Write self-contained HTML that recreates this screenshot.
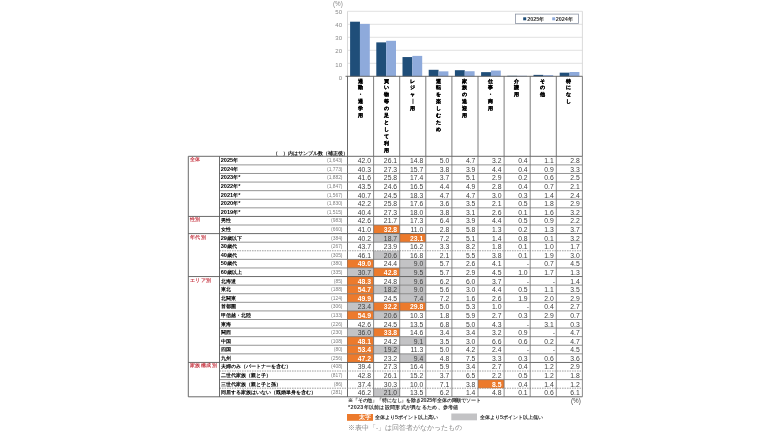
<!DOCTYPE html>
<html lang="ja"><head><meta charset="utf-8">
<style>
html,body{margin:0;padding:0;background:#fff;}
body{width:770px;height:433px;position:relative;overflow:hidden;will-change:transform;font-family:"Liberation Sans",sans-serif;color:#333;}
svg{position:absolute;left:0;top:0;}
div{position:absolute;white-space:nowrap;}
.yl{left:321.5px;width:20.5px;text-align:right;font-size:6px;line-height:8px;color:#8a8a8a;}
.vt{width:10px;text-align:center;font-size:5.49px;line-height:8px;color:#000;font-weight:bold;-webkit-text-stroke:0.2px #000;}
.n{width:23.50px;height:8.59px;text-align:right;font-size:6.8px;line-height:9.19px;color:#404040;}
.o{color:#fff;font-weight:bold;}
.lab{left:220.7px;font-size:5.49px;line-height:9.29px;color:#000;font-weight:bold;}
.d{font-size:5.6px;}
.cnt{left:297px;width:45.5px;text-align:right;font-size:4.9px;line-height:10.99px;color:#808080;}
.cat{left:190px;font-size:5.49px;letter-spacing:0.45px;line-height:7.99px;color:#c9404c;font-weight:bold;}
.note{font-size:5.45px;line-height:7px;color:#333;font-weight:bold;}
</style></head><body>
<svg width="770" height="433" viewBox="0 0 770 433">
<line x1="347.5" y1="63.30" x2="582.40" y2="63.30" stroke="#D9D9D9" stroke-width="0.8"/>
<line x1="347.5" y1="50.30" x2="582.40" y2="50.30" stroke="#D9D9D9" stroke-width="0.8"/>
<line x1="347.5" y1="37.30" x2="582.40" y2="37.30" stroke="#D9D9D9" stroke-width="0.8"/>
<line x1="347.5" y1="24.30" x2="582.40" y2="24.30" stroke="#D9D9D9" stroke-width="0.8"/>
<line x1="347.5" y1="11.30" x2="582.40" y2="11.30" stroke="#D9D9D9" stroke-width="0.8"/>
<line x1="582.40" y1="11.30" x2="582.40" y2="76.30" stroke="#D0D0D0" stroke-width="0.8"/>
<rect x="350.10" y="21.70" width="9.85" height="54.60" fill="#1F4E79"/>
<rect x="359.95" y="23.91" width="9.85" height="52.39" fill="#8EAADB"/>
<rect x="376.30" y="42.37" width="9.85" height="33.93" fill="#1F4E79"/>
<rect x="386.15" y="40.81" width="9.85" height="35.49" fill="#8EAADB"/>
<rect x="402.50" y="57.06" width="9.85" height="19.24" fill="#1F4E79"/>
<rect x="412.35" y="55.89" width="9.85" height="20.41" fill="#8EAADB"/>
<rect x="428.70" y="69.80" width="9.85" height="6.50" fill="#1F4E79"/>
<rect x="438.55" y="71.36" width="9.85" height="4.94" fill="#8EAADB"/>
<rect x="454.90" y="70.19" width="9.85" height="6.11" fill="#1F4E79"/>
<rect x="464.75" y="71.23" width="9.85" height="5.07" fill="#8EAADB"/>
<rect x="481.10" y="72.14" width="9.85" height="4.16" fill="#1F4E79"/>
<rect x="490.95" y="70.58" width="9.85" height="5.72" fill="#8EAADB"/>
<rect x="507.30" y="75.78" width="9.85" height="0.52" fill="#1F4E79"/>
<rect x="517.15" y="75.78" width="9.85" height="0.52" fill="#8EAADB"/>
<rect x="533.50" y="74.87" width="9.85" height="1.43" fill="#1F4E79"/>
<rect x="543.35" y="75.13" width="9.85" height="1.17" fill="#8EAADB"/>
<rect x="559.70" y="72.66" width="9.85" height="3.64" fill="#1F4E79"/>
<rect x="569.55" y="72.01" width="9.85" height="4.29" fill="#8EAADB"/>
<line x1="347.5" y1="11.30" x2="347.5" y2="76.3" stroke="#d4d4d4" stroke-width="0.9"/>
<line x1="347.5" y1="76.3" x2="347.5" y2="396.8" stroke="#5a5a5a" stroke-width="0.9"/>
<line x1="345.5" y1="76.3" x2="582.40" y2="76.3" stroke="#5a5a5a" stroke-width="0.9"/>
<line x1="373.60" y1="76.3" x2="373.60" y2="156.3" stroke="#5a5a5a" stroke-width="0.8"/>
<line x1="399.70" y1="76.3" x2="399.70" y2="156.3" stroke="#5a5a5a" stroke-width="0.8"/>
<line x1="425.80" y1="76.3" x2="425.80" y2="156.3" stroke="#5a5a5a" stroke-width="0.8"/>
<line x1="451.90" y1="76.3" x2="451.90" y2="156.3" stroke="#5a5a5a" stroke-width="0.8"/>
<line x1="478.00" y1="76.3" x2="478.00" y2="156.3" stroke="#5a5a5a" stroke-width="0.8"/>
<line x1="504.10" y1="76.3" x2="504.10" y2="156.3" stroke="#5a5a5a" stroke-width="0.8"/>
<line x1="530.20" y1="76.3" x2="530.20" y2="156.3" stroke="#5a5a5a" stroke-width="0.8"/>
<line x1="556.30" y1="76.3" x2="556.30" y2="156.3" stroke="#5a5a5a" stroke-width="0.8"/>
<line x1="582.40" y1="76.3" x2="582.40" y2="156.3" stroke="#5a5a5a" stroke-width="0.8"/>
<line x1="412.97" y1="98.75" x2="412.97" y2="103.95" stroke="#111" stroke-width="0.85"/>
<rect x="373.60" y="225.01" width="26.10" height="8.59" fill="#EC7A2C"/>
<rect x="373.60" y="233.60" width="26.10" height="8.59" fill="#C3C3C5"/>
<rect x="399.70" y="233.60" width="26.10" height="8.59" fill="#EC7A2C"/>
<rect x="373.60" y="250.78" width="26.10" height="8.59" fill="#C3C3C5"/>
<rect x="347.50" y="259.37" width="26.10" height="8.59" fill="#EC7A2C"/>
<rect x="399.70" y="259.37" width="26.10" height="8.59" fill="#C3C3C5"/>
<rect x="347.50" y="267.96" width="26.10" height="8.59" fill="#C3C3C5"/>
<rect x="373.60" y="267.96" width="26.10" height="8.59" fill="#EC7A2C"/>
<rect x="399.70" y="267.96" width="26.10" height="8.59" fill="#C3C3C5"/>
<rect x="347.50" y="276.55" width="26.10" height="8.59" fill="#EC7A2C"/>
<rect x="399.70" y="276.55" width="26.10" height="8.59" fill="#C3C3C5"/>
<rect x="347.50" y="285.14" width="26.10" height="8.59" fill="#EC7A2C"/>
<rect x="373.60" y="285.14" width="26.10" height="8.59" fill="#C3C3C5"/>
<rect x="399.70" y="285.14" width="26.10" height="8.59" fill="#C3C3C5"/>
<rect x="347.50" y="293.73" width="26.10" height="8.59" fill="#EC7A2C"/>
<rect x="399.70" y="293.73" width="26.10" height="8.59" fill="#C3C3C5"/>
<rect x="347.50" y="302.32" width="26.10" height="8.59" fill="#C3C3C5"/>
<rect x="373.60" y="302.32" width="26.10" height="8.59" fill="#EC7A2C"/>
<rect x="399.70" y="302.32" width="26.10" height="8.59" fill="#EC7A2C"/>
<rect x="347.50" y="310.91" width="26.10" height="8.59" fill="#EC7A2C"/>
<rect x="373.60" y="310.91" width="26.10" height="8.59" fill="#C3C3C5"/>
<rect x="347.50" y="328.09" width="26.10" height="8.59" fill="#C3C3C5"/>
<rect x="373.60" y="328.09" width="26.10" height="8.59" fill="#EC7A2C"/>
<rect x="347.50" y="336.67" width="26.10" height="8.59" fill="#EC7A2C"/>
<rect x="399.70" y="336.67" width="26.10" height="8.59" fill="#C3C3C5"/>
<rect x="347.50" y="345.26" width="26.10" height="8.59" fill="#EC7A2C"/>
<rect x="373.60" y="345.26" width="26.10" height="8.59" fill="#C3C3C5"/>
<rect x="347.50" y="353.85" width="26.10" height="8.59" fill="#EC7A2C"/>
<rect x="399.70" y="353.85" width="26.10" height="8.59" fill="#C3C3C5"/>
<rect x="478.00" y="379.62" width="26.10" height="8.59" fill="#EC7A2C"/>
<rect x="373.60" y="388.21" width="26.10" height="8.59" fill="#C3C3C5"/>
<line x1="188.3" y1="156.3" x2="582.40" y2="156.3" stroke="#5a5a5a" stroke-width="0.9"/>
<line x1="219.5" y1="164.89" x2="582.40" y2="164.89" stroke="#7a7a7a" stroke-width="0.8"/>
<line x1="219.5" y1="173.48" x2="582.40" y2="173.48" stroke="#7a7a7a" stroke-width="0.8"/>
<line x1="219.5" y1="182.07" x2="582.40" y2="182.07" stroke="#7a7a7a" stroke-width="0.8"/>
<line x1="219.5" y1="190.66" x2="582.40" y2="190.66" stroke="#7a7a7a" stroke-width="0.8"/>
<line x1="219.5" y1="199.25" x2="582.40" y2="199.25" stroke="#7a7a7a" stroke-width="0.8"/>
<line x1="219.5" y1="207.84" x2="582.40" y2="207.84" stroke="#7a7a7a" stroke-width="0.8"/>
<line x1="188.3" y1="216.43" x2="582.40" y2="216.43" stroke="#5a5a5a" stroke-width="0.9"/>
<line x1="219.5" y1="225.01" x2="582.40" y2="225.01" stroke="#7a7a7a" stroke-width="0.8"/>
<line x1="188.3" y1="233.60" x2="582.40" y2="233.60" stroke="#5a5a5a" stroke-width="0.9"/>
<line x1="219.5" y1="242.19" x2="582.40" y2="242.19" stroke="#7a7a7a" stroke-width="0.8"/>
<line x1="219.5" y1="250.78" x2="582.40" y2="250.78" stroke="#888" stroke-width="0.8" stroke-dasharray="1.6,0.9"/>
<line x1="219.5" y1="259.37" x2="582.40" y2="259.37" stroke="#7a7a7a" stroke-width="0.8"/>
<line x1="219.5" y1="267.96" x2="582.40" y2="267.96" stroke="#7a7a7a" stroke-width="0.8"/>
<line x1="188.3" y1="276.55" x2="582.40" y2="276.55" stroke="#5a5a5a" stroke-width="0.9"/>
<line x1="219.5" y1="285.14" x2="582.40" y2="285.14" stroke="#7a7a7a" stroke-width="0.8"/>
<line x1="219.5" y1="293.73" x2="582.40" y2="293.73" stroke="#7a7a7a" stroke-width="0.8"/>
<line x1="219.5" y1="302.32" x2="582.40" y2="302.32" stroke="#7a7a7a" stroke-width="0.8"/>
<line x1="219.5" y1="310.91" x2="582.40" y2="310.91" stroke="#7a7a7a" stroke-width="0.8"/>
<line x1="219.5" y1="319.50" x2="582.40" y2="319.50" stroke="#7a7a7a" stroke-width="0.8"/>
<line x1="219.5" y1="328.09" x2="582.40" y2="328.09" stroke="#7a7a7a" stroke-width="0.8"/>
<line x1="219.5" y1="336.67" x2="582.40" y2="336.67" stroke="#7a7a7a" stroke-width="0.8"/>
<line x1="219.5" y1="345.26" x2="582.40" y2="345.26" stroke="#7a7a7a" stroke-width="0.8"/>
<line x1="219.5" y1="353.85" x2="582.40" y2="353.85" stroke="#7a7a7a" stroke-width="0.8"/>
<line x1="188.3" y1="362.44" x2="582.40" y2="362.44" stroke="#5a5a5a" stroke-width="0.9"/>
<line x1="219.5" y1="371.03" x2="582.40" y2="371.03" stroke="#888" stroke-width="0.8" stroke-dasharray="1.6,0.9"/>
<line x1="219.5" y1="379.62" x2="582.40" y2="379.62" stroke="#7a7a7a" stroke-width="0.8"/>
<line x1="219.5" y1="388.21" x2="582.40" y2="388.21" stroke="#888" stroke-width="0.8" stroke-dasharray="1.6,0.9"/>
<line x1="188.3" y1="396.80" x2="582.40" y2="396.80" stroke="#5a5a5a" stroke-width="0.9"/>
<line x1="188.3" y1="156.3" x2="188.3" y2="396.8" stroke="#5a5a5a" stroke-width="0.9"/>
<line x1="219.5" y1="156.3" x2="219.5" y2="396.8" stroke="#5a5a5a" stroke-width="0.9"/>
<line x1="373.60" y1="156.3" x2="373.60" y2="396.8" stroke="#6e6e6e" stroke-width="0.8"/>
<line x1="399.70" y1="156.3" x2="399.70" y2="396.8" stroke="#6e6e6e" stroke-width="0.8"/>
<line x1="425.80" y1="156.3" x2="425.80" y2="396.8" stroke="#6e6e6e" stroke-width="0.8"/>
<line x1="451.90" y1="156.3" x2="451.90" y2="396.8" stroke="#6e6e6e" stroke-width="0.8"/>
<line x1="478.00" y1="156.3" x2="478.00" y2="396.8" stroke="#6e6e6e" stroke-width="0.8"/>
<line x1="504.10" y1="156.3" x2="504.10" y2="396.8" stroke="#6e6e6e" stroke-width="0.8"/>
<line x1="530.20" y1="156.3" x2="530.20" y2="396.8" stroke="#6e6e6e" stroke-width="0.8"/>
<line x1="556.30" y1="156.3" x2="556.30" y2="396.8" stroke="#6e6e6e" stroke-width="0.8"/>
<line x1="582.40" y1="156.3" x2="582.40" y2="396.8" stroke="#6e6e6e" stroke-width="0.8"/>
<rect x="347" y="414" width="26" height="6.8" fill="#EC7A2C"/>
<rect x="451.3" y="413.5" width="25.7" height="6.8" fill="#C3C3C5"/>
<rect x="515.6" y="14.1" width="63" height="9.4" fill="#fff" stroke="#8c94a4" stroke-width="0.8"/>
<rect x="523.2" y="17.3" width="3" height="3" fill="#1F4E79"/>
<rect x="552.2" y="17.3" width="3" height="3" fill="#8EAADB"/>
</svg>
<div style="left:333px;top:0px;font-size:6.3px;line-height:8px;color:#8a8a8a;">(%)</div>
<div class="yl" style="top:60.50px">10</div>
<div class="yl" style="top:47.30px">20</div>
<div class="yl" style="top:34.10px">30</div>
<div class="yl" style="top:20.90px">40</div>
<div class="yl" style="top:7.70px">50</div>
<div class="yl" style="top:73.6px">0</div>
<div class="vt" style="left:355.55px;top:76.50px">通</div>
<div class="vt" style="left:355.55px;top:83.45px">勤</div>
<div class="vt" style="left:355.55px;top:90.40px">・</div>
<div class="vt" style="left:355.55px;top:97.35px">通</div>
<div class="vt" style="left:355.55px;top:104.30px">学</div>
<div class="vt" style="left:355.55px;top:111.25px">用</div>
<div class="vt" style="left:381.51px;top:76.50px">買</div>
<div class="vt" style="left:381.51px;top:83.45px">い</div>
<div class="vt" style="left:381.51px;top:90.40px">物</div>
<div class="vt" style="left:381.51px;top:97.35px">等</div>
<div class="vt" style="left:381.51px;top:104.30px">の</div>
<div class="vt" style="left:381.51px;top:111.25px">足</div>
<div class="vt" style="left:381.51px;top:118.20px">と</div>
<div class="vt" style="left:381.51px;top:125.15px">し</div>
<div class="vt" style="left:381.51px;top:132.10px">て</div>
<div class="vt" style="left:381.51px;top:139.05px">利</div>
<div class="vt" style="left:381.51px;top:146.00px">用</div>
<div class="vt" style="left:407.47px;top:76.50px">レ</div>
<div class="vt" style="left:407.47px;top:83.45px">ジ</div>
<div class="vt" style="left:407.47px;top:90.40px">ャ</div>
<div class="vt" style="left:407.47px;top:104.30px">用</div>
<div class="vt" style="left:433.43px;top:76.50px">運</div>
<div class="vt" style="left:433.43px;top:83.45px">転</div>
<div class="vt" style="left:433.43px;top:90.40px">を</div>
<div class="vt" style="left:433.43px;top:97.35px">楽</div>
<div class="vt" style="left:433.43px;top:104.30px">し</div>
<div class="vt" style="left:433.43px;top:111.25px">む</div>
<div class="vt" style="left:433.43px;top:118.20px">た</div>
<div class="vt" style="left:433.43px;top:125.15px">め</div>
<div class="vt" style="left:459.39px;top:76.50px">家</div>
<div class="vt" style="left:459.39px;top:83.45px">族</div>
<div class="vt" style="left:459.39px;top:90.40px">の</div>
<div class="vt" style="left:459.39px;top:97.35px">送</div>
<div class="vt" style="left:459.39px;top:104.30px">迎</div>
<div class="vt" style="left:459.39px;top:111.25px">用</div>
<div class="vt" style="left:485.35px;top:76.50px">仕</div>
<div class="vt" style="left:485.35px;top:83.45px">事</div>
<div class="vt" style="left:485.35px;top:90.40px">・</div>
<div class="vt" style="left:485.35px;top:97.35px">商</div>
<div class="vt" style="left:485.35px;top:104.30px">用</div>
<div class="vt" style="left:511.31px;top:76.50px">介</div>
<div class="vt" style="left:511.31px;top:83.45px">護</div>
<div class="vt" style="left:511.31px;top:90.40px">用</div>
<div class="vt" style="left:537.27px;top:76.50px">そ</div>
<div class="vt" style="left:537.27px;top:83.45px">の</div>
<div class="vt" style="left:537.27px;top:90.40px">他</div>
<div class="vt" style="left:563.23px;top:76.50px">特</div>
<div class="vt" style="left:563.23px;top:83.45px">に</div>
<div class="vt" style="left:563.23px;top:90.40px">な</div>
<div class="vt" style="left:563.23px;top:97.35px">し</div>
<div class="cat" style="top:156.30px">全体</div>
<div class="n" style="left:347.50px;top:156.30px">42.0</div>
<div class="n" style="left:373.60px;top:156.30px">26.1</div>
<div class="n" style="left:399.70px;top:156.30px">14.8</div>
<div class="n" style="left:425.80px;top:156.30px">5.0</div>
<div class="n" style="left:451.90px;top:156.30px">4.7</div>
<div class="n" style="left:478.00px;top:156.30px">3.2</div>
<div class="n" style="left:504.10px;top:156.30px">0.4</div>
<div class="n" style="left:530.20px;top:156.30px">1.1</div>
<div class="n" style="left:556.30px;top:156.30px">2.8</div>
<div class="lab" style="top:156.30px"><span class="d">2025</span>年</div>
<div class="cnt" style="top:156.30px">(1,643)</div>
<div class="n" style="left:347.50px;top:164.89px">40.3</div>
<div class="n" style="left:373.60px;top:164.89px">27.3</div>
<div class="n" style="left:399.70px;top:164.89px">15.7</div>
<div class="n" style="left:425.80px;top:164.89px">3.8</div>
<div class="n" style="left:451.90px;top:164.89px">3.9</div>
<div class="n" style="left:478.00px;top:164.89px">4.4</div>
<div class="n" style="left:504.10px;top:164.89px">0.4</div>
<div class="n" style="left:530.20px;top:164.89px">0.9</div>
<div class="n" style="left:556.30px;top:164.89px">3.3</div>
<div class="lab" style="top:164.89px"><span class="d">2024</span>年</div>
<div class="cnt" style="top:164.89px">(1,773)</div>
<div class="n" style="left:347.50px;top:173.48px">41.6</div>
<div class="n" style="left:373.60px;top:173.48px">25.8</div>
<div class="n" style="left:399.70px;top:173.48px">17.4</div>
<div class="n" style="left:425.80px;top:173.48px">3.7</div>
<div class="n" style="left:451.90px;top:173.48px">5.1</div>
<div class="n" style="left:478.00px;top:173.48px">2.9</div>
<div class="n" style="left:504.10px;top:173.48px">0.2</div>
<div class="n" style="left:530.20px;top:173.48px">0.6</div>
<div class="n" style="left:556.30px;top:173.48px">2.5</div>
<div class="lab" style="top:173.48px"><span class="d">2023</span>年<span class="d">*</span></div>
<div class="cnt" style="top:173.48px">(1,882)</div>
<div class="n" style="left:347.50px;top:182.07px">43.5</div>
<div class="n" style="left:373.60px;top:182.07px">24.6</div>
<div class="n" style="left:399.70px;top:182.07px">16.5</div>
<div class="n" style="left:425.80px;top:182.07px">4.4</div>
<div class="n" style="left:451.90px;top:182.07px">4.9</div>
<div class="n" style="left:478.00px;top:182.07px">2.8</div>
<div class="n" style="left:504.10px;top:182.07px">0.4</div>
<div class="n" style="left:530.20px;top:182.07px">0.7</div>
<div class="n" style="left:556.30px;top:182.07px">2.1</div>
<div class="lab" style="top:182.07px"><span class="d">2022</span>年<span class="d">*</span></div>
<div class="cnt" style="top:182.07px">(1,847)</div>
<div class="n" style="left:347.50px;top:190.66px">40.7</div>
<div class="n" style="left:373.60px;top:190.66px">24.5</div>
<div class="n" style="left:399.70px;top:190.66px">18.3</div>
<div class="n" style="left:425.80px;top:190.66px">4.7</div>
<div class="n" style="left:451.90px;top:190.66px">4.7</div>
<div class="n" style="left:478.00px;top:190.66px">3.0</div>
<div class="n" style="left:504.10px;top:190.66px">0.3</div>
<div class="n" style="left:530.20px;top:190.66px">1.4</div>
<div class="n" style="left:556.30px;top:190.66px">2.4</div>
<div class="lab" style="top:190.66px"><span class="d">2021</span>年<span class="d">*</span></div>
<div class="cnt" style="top:190.66px">(1,567)</div>
<div class="n" style="left:347.50px;top:199.25px">42.2</div>
<div class="n" style="left:373.60px;top:199.25px">25.8</div>
<div class="n" style="left:399.70px;top:199.25px">17.6</div>
<div class="n" style="left:425.80px;top:199.25px">3.6</div>
<div class="n" style="left:451.90px;top:199.25px">3.5</div>
<div class="n" style="left:478.00px;top:199.25px">2.1</div>
<div class="n" style="left:504.10px;top:199.25px">0.5</div>
<div class="n" style="left:530.20px;top:199.25px">1.8</div>
<div class="n" style="left:556.30px;top:199.25px">2.9</div>
<div class="lab" style="top:199.25px"><span class="d">2020</span>年<span class="d">*</span></div>
<div class="cnt" style="top:199.25px">(1,830)</div>
<div class="n" style="left:347.50px;top:207.84px">40.4</div>
<div class="n" style="left:373.60px;top:207.84px">27.3</div>
<div class="n" style="left:399.70px;top:207.84px">18.0</div>
<div class="n" style="left:425.80px;top:207.84px">3.8</div>
<div class="n" style="left:451.90px;top:207.84px">3.1</div>
<div class="n" style="left:478.00px;top:207.84px">2.6</div>
<div class="n" style="left:504.10px;top:207.84px">0.1</div>
<div class="n" style="left:530.20px;top:207.84px">1.6</div>
<div class="n" style="left:556.30px;top:207.84px">3.2</div>
<div class="lab" style="top:207.84px"><span class="d">2019</span>年<span class="d">*</span></div>
<div class="cnt" style="top:207.84px">(1,515)</div>
<div class="cat" style="top:216.43px">性別</div>
<div class="n" style="left:347.50px;top:216.43px">42.6</div>
<div class="n" style="left:373.60px;top:216.43px">21.7</div>
<div class="n" style="left:399.70px;top:216.43px">17.3</div>
<div class="n" style="left:425.80px;top:216.43px">6.4</div>
<div class="n" style="left:451.90px;top:216.43px">3.9</div>
<div class="n" style="left:478.00px;top:216.43px">4.4</div>
<div class="n" style="left:504.10px;top:216.43px">0.5</div>
<div class="n" style="left:530.20px;top:216.43px">0.9</div>
<div class="n" style="left:556.30px;top:216.43px">2.2</div>
<div class="lab" style="top:216.43px">男性</div>
<div class="cnt" style="top:216.43px">(983)</div>
<div class="n" style="left:347.50px;top:225.01px">41.0</div>
<div class="n o" style="left:373.60px;top:225.01px">32.8</div>
<div class="n" style="left:399.70px;top:225.01px">11.0</div>
<div class="n" style="left:425.80px;top:225.01px">2.8</div>
<div class="n" style="left:451.90px;top:225.01px">5.8</div>
<div class="n" style="left:478.00px;top:225.01px">1.3</div>
<div class="n" style="left:504.10px;top:225.01px">0.2</div>
<div class="n" style="left:530.20px;top:225.01px">1.3</div>
<div class="n" style="left:556.30px;top:225.01px">3.7</div>
<div class="lab" style="top:225.01px">女性</div>
<div class="cnt" style="top:225.01px">(660)</div>
<div class="cat" style="top:233.60px">年代別</div>
<div class="n" style="left:347.50px;top:233.60px">40.2</div>
<div class="n" style="left:373.60px;top:233.60px">18.7</div>
<div class="n o" style="left:399.70px;top:233.60px">23.1</div>
<div class="n" style="left:425.80px;top:233.60px">7.2</div>
<div class="n" style="left:451.90px;top:233.60px">5.1</div>
<div class="n" style="left:478.00px;top:233.60px">1.4</div>
<div class="n" style="left:504.10px;top:233.60px">0.8</div>
<div class="n" style="left:530.20px;top:233.60px">0.1</div>
<div class="n" style="left:556.30px;top:233.60px">3.2</div>
<div class="lab" style="top:233.60px"><span class="d">29</span>歳以下</div>
<div class="cnt" style="top:233.60px">(384)</div>
<div class="n" style="left:347.50px;top:242.19px">43.7</div>
<div class="n" style="left:373.60px;top:242.19px">23.9</div>
<div class="n" style="left:399.70px;top:242.19px">16.2</div>
<div class="n" style="left:425.80px;top:242.19px">3.3</div>
<div class="n" style="left:451.90px;top:242.19px">8.2</div>
<div class="n" style="left:478.00px;top:242.19px">1.8</div>
<div class="n" style="left:504.10px;top:242.19px">0.1</div>
<div class="n" style="left:530.20px;top:242.19px">1.0</div>
<div class="n" style="left:556.30px;top:242.19px">1.7</div>
<div class="lab" style="top:242.19px"><span class="d">30</span>歳代</div>
<div class="cnt" style="top:242.19px">(267)</div>
<div class="n" style="left:347.50px;top:250.78px">46.1</div>
<div class="n" style="left:373.60px;top:250.78px">20.6</div>
<div class="n" style="left:399.70px;top:250.78px">16.8</div>
<div class="n" style="left:425.80px;top:250.78px">2.1</div>
<div class="n" style="left:451.90px;top:250.78px">5.5</div>
<div class="n" style="left:478.00px;top:250.78px">3.8</div>
<div class="n" style="left:504.10px;top:250.78px">0.1</div>
<div class="n" style="left:530.20px;top:250.78px">1.9</div>
<div class="n" style="left:556.30px;top:250.78px">3.0</div>
<div class="lab" style="top:250.78px"><span class="d">40</span>歳代</div>
<div class="cnt" style="top:250.78px">(305)</div>
<div class="n o" style="left:347.50px;top:259.37px">49.0</div>
<div class="n" style="left:373.60px;top:259.37px">24.4</div>
<div class="n" style="left:399.70px;top:259.37px">9.0</div>
<div class="n" style="left:425.80px;top:259.37px">5.7</div>
<div class="n" style="left:451.90px;top:259.37px">2.6</div>
<div class="n" style="left:478.00px;top:259.37px">4.1</div>
<div class="n" style="left:505.50px;top:259.37px">-</div>
<div class="n" style="left:530.20px;top:259.37px">0.7</div>
<div class="n" style="left:556.30px;top:259.37px">4.5</div>
<div class="lab" style="top:259.37px"><span class="d">50</span>歳代</div>
<div class="cnt" style="top:259.37px">(380)</div>
<div class="n" style="left:347.50px;top:267.96px">30.7</div>
<div class="n o" style="left:373.60px;top:267.96px">42.8</div>
<div class="n" style="left:399.70px;top:267.96px">9.5</div>
<div class="n" style="left:425.80px;top:267.96px">5.7</div>
<div class="n" style="left:451.90px;top:267.96px">2.9</div>
<div class="n" style="left:478.00px;top:267.96px">4.5</div>
<div class="n" style="left:504.10px;top:267.96px">1.0</div>
<div class="n" style="left:530.20px;top:267.96px">1.7</div>
<div class="n" style="left:556.30px;top:267.96px">1.3</div>
<div class="lab" style="top:267.96px"><span class="d">60</span>歳以上</div>
<div class="cnt" style="top:267.96px">(335)</div>
<div class="cat" style="top:276.55px">エリア別</div>
<div class="n o" style="left:347.50px;top:276.55px">48.3</div>
<div class="n" style="left:373.60px;top:276.55px">24.8</div>
<div class="n" style="left:399.70px;top:276.55px">9.6</div>
<div class="n" style="left:425.80px;top:276.55px">6.2</div>
<div class="n" style="left:451.90px;top:276.55px">6.0</div>
<div class="n" style="left:478.00px;top:276.55px">3.7</div>
<div class="n" style="left:505.50px;top:276.55px">-</div>
<div class="n" style="left:531.60px;top:276.55px">-</div>
<div class="n" style="left:556.30px;top:276.55px">1.4</div>
<div class="lab" style="top:276.55px">北海道</div>
<div class="cnt" style="top:276.55px">(85)</div>
<div class="n o" style="left:347.50px;top:285.14px">54.7</div>
<div class="n" style="left:373.60px;top:285.14px">18.2</div>
<div class="n" style="left:399.70px;top:285.14px">9.0</div>
<div class="n" style="left:425.80px;top:285.14px">5.6</div>
<div class="n" style="left:451.90px;top:285.14px">3.0</div>
<div class="n" style="left:478.00px;top:285.14px">4.4</div>
<div class="n" style="left:504.10px;top:285.14px">0.5</div>
<div class="n" style="left:530.20px;top:285.14px">1.1</div>
<div class="n" style="left:556.30px;top:285.14px">3.5</div>
<div class="lab" style="top:285.14px">東北</div>
<div class="cnt" style="top:285.14px">(188)</div>
<div class="n o" style="left:347.50px;top:293.73px">49.9</div>
<div class="n" style="left:373.60px;top:293.73px">24.5</div>
<div class="n" style="left:399.70px;top:293.73px">7.4</div>
<div class="n" style="left:425.80px;top:293.73px">7.2</div>
<div class="n" style="left:451.90px;top:293.73px">1.6</div>
<div class="n" style="left:478.00px;top:293.73px">2.6</div>
<div class="n" style="left:504.10px;top:293.73px">1.9</div>
<div class="n" style="left:530.20px;top:293.73px">2.0</div>
<div class="n" style="left:556.30px;top:293.73px">2.9</div>
<div class="lab" style="top:293.73px">北関東</div>
<div class="cnt" style="top:293.73px">(124)</div>
<div class="n" style="left:347.50px;top:302.32px">23.4</div>
<div class="n o" style="left:373.60px;top:302.32px">32.2</div>
<div class="n o" style="left:399.70px;top:302.32px">29.8</div>
<div class="n" style="left:425.80px;top:302.32px">5.0</div>
<div class="n" style="left:451.90px;top:302.32px">5.3</div>
<div class="n" style="left:478.00px;top:302.32px">1.0</div>
<div class="n" style="left:505.50px;top:302.32px">-</div>
<div class="n" style="left:530.20px;top:302.32px">0.4</div>
<div class="n" style="left:556.30px;top:302.32px">2.7</div>
<div class="lab" style="top:302.32px">首都圏</div>
<div class="cnt" style="top:302.32px">(306)</div>
<div class="n o" style="left:347.50px;top:310.91px">54.9</div>
<div class="n" style="left:373.60px;top:310.91px">20.6</div>
<div class="n" style="left:399.70px;top:310.91px">10.3</div>
<div class="n" style="left:425.80px;top:310.91px">1.8</div>
<div class="n" style="left:451.90px;top:310.91px">5.9</div>
<div class="n" style="left:478.00px;top:310.91px">2.7</div>
<div class="n" style="left:504.10px;top:310.91px">0.3</div>
<div class="n" style="left:530.20px;top:310.91px">2.9</div>
<div class="n" style="left:556.30px;top:310.91px">0.7</div>
<div class="lab" style="top:310.91px">甲信越・北陸</div>
<div class="cnt" style="top:310.91px">(133)</div>
<div class="n" style="left:347.50px;top:319.50px">42.6</div>
<div class="n" style="left:373.60px;top:319.50px">24.5</div>
<div class="n" style="left:399.70px;top:319.50px">13.5</div>
<div class="n" style="left:425.80px;top:319.50px">6.8</div>
<div class="n" style="left:451.90px;top:319.50px">5.0</div>
<div class="n" style="left:478.00px;top:319.50px">4.3</div>
<div class="n" style="left:505.50px;top:319.50px">-</div>
<div class="n" style="left:530.20px;top:319.50px">3.1</div>
<div class="n" style="left:556.30px;top:319.50px">0.3</div>
<div class="lab" style="top:319.50px">東海</div>
<div class="cnt" style="top:319.50px">(226)</div>
<div class="n" style="left:347.50px;top:328.09px">36.0</div>
<div class="n o" style="left:373.60px;top:328.09px">33.8</div>
<div class="n" style="left:399.70px;top:328.09px">14.6</div>
<div class="n" style="left:425.80px;top:328.09px">3.4</div>
<div class="n" style="left:451.90px;top:328.09px">3.4</div>
<div class="n" style="left:478.00px;top:328.09px">3.2</div>
<div class="n" style="left:504.10px;top:328.09px">0.9</div>
<div class="n" style="left:531.60px;top:328.09px">-</div>
<div class="n" style="left:556.30px;top:328.09px">4.7</div>
<div class="lab" style="top:328.09px">関西</div>
<div class="cnt" style="top:328.09px">(230)</div>
<div class="n o" style="left:347.50px;top:336.67px">48.1</div>
<div class="n" style="left:373.60px;top:336.67px">24.2</div>
<div class="n" style="left:399.70px;top:336.67px">9.1</div>
<div class="n" style="left:425.80px;top:336.67px">3.5</div>
<div class="n" style="left:451.90px;top:336.67px">3.0</div>
<div class="n" style="left:478.00px;top:336.67px">6.6</div>
<div class="n" style="left:504.10px;top:336.67px">0.6</div>
<div class="n" style="left:530.20px;top:336.67px">0.2</div>
<div class="n" style="left:556.30px;top:336.67px">4.7</div>
<div class="lab" style="top:336.67px">中国</div>
<div class="cnt" style="top:336.67px">(108)</div>
<div class="n o" style="left:347.50px;top:345.26px">53.4</div>
<div class="n" style="left:373.60px;top:345.26px">19.2</div>
<div class="n" style="left:399.70px;top:345.26px">11.3</div>
<div class="n" style="left:425.80px;top:345.26px">5.0</div>
<div class="n" style="left:451.90px;top:345.26px">4.2</div>
<div class="n" style="left:478.00px;top:345.26px">2.4</div>
<div class="n" style="left:505.50px;top:345.26px">-</div>
<div class="n" style="left:531.60px;top:345.26px">-</div>
<div class="n" style="left:556.30px;top:345.26px">4.5</div>
<div class="lab" style="top:345.26px">四国</div>
<div class="cnt" style="top:345.26px">(80)</div>
<div class="n o" style="left:347.50px;top:353.85px">47.2</div>
<div class="n" style="left:373.60px;top:353.85px">23.2</div>
<div class="n" style="left:399.70px;top:353.85px">9.4</div>
<div class="n" style="left:425.80px;top:353.85px">4.8</div>
<div class="n" style="left:451.90px;top:353.85px">7.5</div>
<div class="n" style="left:478.00px;top:353.85px">3.3</div>
<div class="n" style="left:504.10px;top:353.85px">0.3</div>
<div class="n" style="left:530.20px;top:353.85px">0.6</div>
<div class="n" style="left:556.30px;top:353.85px">3.6</div>
<div class="lab" style="top:353.85px">九州</div>
<div class="cnt" style="top:353.85px">(256)</div>
<div class="cat" style="top:362.44px">家族構成別</div>
<div class="n" style="left:347.50px;top:362.44px">39.4</div>
<div class="n" style="left:373.60px;top:362.44px">27.3</div>
<div class="n" style="left:399.70px;top:362.44px">16.4</div>
<div class="n" style="left:425.80px;top:362.44px">5.9</div>
<div class="n" style="left:451.90px;top:362.44px">3.4</div>
<div class="n" style="left:478.00px;top:362.44px">2.7</div>
<div class="n" style="left:504.10px;top:362.44px">0.4</div>
<div class="n" style="left:530.20px;top:362.44px">1.2</div>
<div class="n" style="left:556.30px;top:362.44px">2.9</div>
<div class="lab" style="top:362.44px">夫婦のみ（パートナーを含む）</div>
<div class="cnt" style="top:362.44px">(408)</div>
<div class="n" style="left:347.50px;top:371.03px">42.8</div>
<div class="n" style="left:373.60px;top:371.03px">26.1</div>
<div class="n" style="left:399.70px;top:371.03px">15.2</div>
<div class="n" style="left:425.80px;top:371.03px">3.7</div>
<div class="n" style="left:451.90px;top:371.03px">6.5</div>
<div class="n" style="left:478.00px;top:371.03px">2.2</div>
<div class="n" style="left:504.10px;top:371.03px">0.5</div>
<div class="n" style="left:530.20px;top:371.03px">1.2</div>
<div class="n" style="left:556.30px;top:371.03px">1.8</div>
<div class="lab" style="top:371.03px">二世代家族（親と子）</div>
<div class="cnt" style="top:371.03px">(817)</div>
<div class="n" style="left:347.50px;top:379.62px">37.4</div>
<div class="n" style="left:373.60px;top:379.62px">30.3</div>
<div class="n" style="left:399.70px;top:379.62px">10.0</div>
<div class="n" style="left:425.80px;top:379.62px">7.1</div>
<div class="n" style="left:451.90px;top:379.62px">3.8</div>
<div class="n o" style="left:478.00px;top:379.62px">8.5</div>
<div class="n" style="left:504.10px;top:379.62px">0.4</div>
<div class="n" style="left:530.20px;top:379.62px">1.4</div>
<div class="n" style="left:556.30px;top:379.62px">1.2</div>
<div class="lab" style="top:379.62px">三世代家族（親と子と孫）</div>
<div class="cnt" style="top:379.62px">(86)</div>
<div class="n" style="left:347.50px;top:388.21px">46.2</div>
<div class="n" style="left:373.60px;top:388.21px">21.0</div>
<div class="n" style="left:399.70px;top:388.21px">13.5</div>
<div class="n" style="left:425.80px;top:388.21px">6.2</div>
<div class="n" style="left:451.90px;top:388.21px">1.4</div>
<div class="n" style="left:478.00px;top:388.21px">4.8</div>
<div class="n" style="left:504.10px;top:388.21px">0.1</div>
<div class="n" style="left:530.20px;top:388.21px">0.6</div>
<div class="n" style="left:556.30px;top:388.21px">6.1</div>
<div class="lab" style="top:388.21px">同居する家族はいない（既婚単身を含む）</div>
<div class="cnt" style="top:388.21px">(281)</div>
<div style="left:527.3px;top:14.5px;font-size:5.45px;line-height:9px;color:#333;font-weight:bold;">2025年</div>
<div style="left:555.8px;top:14.5px;font-size:5.45px;line-height:9px;color:#333;font-weight:bold;">2024年</div>
<div style="left:267.5px;top:149.3px;width:80.5px;text-align:right;font-size:5.49px;line-height:8px;color:#111;font-weight:bold;">（　）内はサンプル数（補正後）</div>
<div class="note" style="left:348px;top:396.8px;letter-spacing:-0.15px;">※「その他」「特になし」を除き2025年全体の降順でソート</div>
<div style="left:571px;top:397.3px;font-size:6.3px;line-height:7px;color:#444;">(%)</div>
<div class="note" style="left:348px;top:403.8px;letter-spacing:0.28px;">*2023年以前は設問形式が異なるため、参考値</div>
<div style="left:347px;top:413.5px;width:24px;text-align:right;font-size:6px;line-height:7.5px;color:#fff;font-weight:bold;">太字</div>
<div class="note" style="left:375px;top:413.5px;">全体より5ポイント以上高い</div>
<div class="note" style="left:480px;top:413.5px;">全体より5ポイント以上低い</div>
<div style="left:348px;top:423px;font-size:6.6px;line-height:10px;color:#8a8a8a;">※表中「-」は回答者がなかったもの</div>
</body></html>
